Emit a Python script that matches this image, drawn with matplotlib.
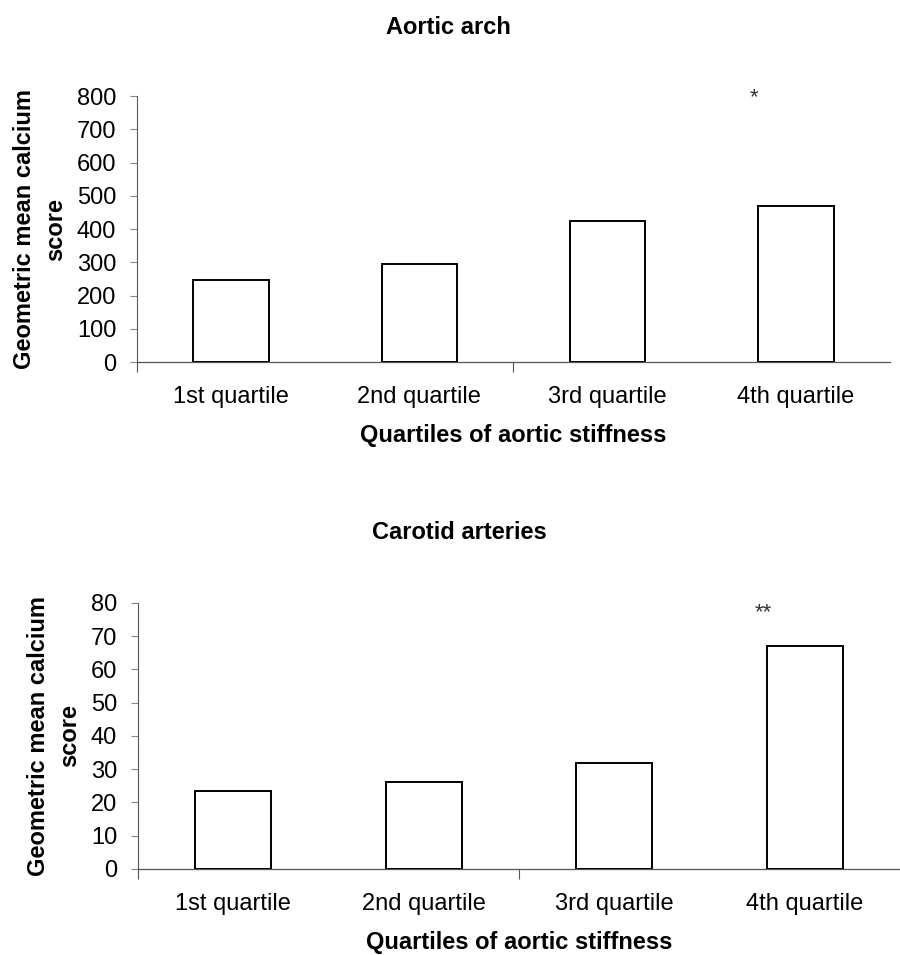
"""
Geometric mean calcium score by quartile of aortic stiffness
Two bar panels: aortic arch and carotid arteries
"""
import matplotlib
matplotlib.use("Agg")
import matplotlib.pyplot as plt

plt.rcParams['font.family'] = ['Liberation Sans', 'DejaVu Sans']

quartiles = ['1st quartile', '2nd quartile', '3rd quartile', '4th quartile']
aortic_arch = [246, 295, 424, 469]
carotid = [23.5, 26.2, 31.9, 67.1]

aortic_ticks = [0, 100, 200, 300, 400, 500, 600, 700, 800]
carotid_ticks = [0, 10, 20, 30, 40, 50, 60, 70, 80]

# significance marks: (bar index, label, height in data units)
aortic_star = (3, '*', 794)
carotid_star = (3, '**', 77)

ylabel = 'Geometric mean calcium\nscore'
xlabel = 'Quartiles of aortic stiffness'


def draw_panel(ax, values, yticks, star):
    """Draw one bar panel with the scanned-figure styling"""
    x = range(len(values))
    ax.bar(x, values, width=0.4, color='white', edgecolor='black', linewidth=1.4, zorder=3)

    ax.set_xlim(-0.5, len(values) - 0.5)
    ax.set_ylim(yticks[0], yticks[-1])
    ax.set_yticks(yticks)
    ax.set_xticks(list(x))
    ax.set_xticklabels(quartiles)
    # only the left edge and the middle divider tick survive in the scan
    ax.set_xticks([-0.5, len(values) / 2 - 0.5], minor=True)

    ax.tick_params(axis='x', which='major', length=0, pad=17, labelsize=17)
    ax.tick_params(axis='x', which='minor', length=7, width=0.8, color='#555555', direction='out')
    ax.tick_params(axis='y', length=5, width=0.8, color='#888888', pad=10, labelsize=17)

    for side in ['top', 'right']:
        ax.spines[side].set_visible(False)
    ax.spines['left'].set_color('#555555')
    ax.spines['left'].set_linewidth(0.8)
    ax.spines['bottom'].set_color('#555555')
    ax.spines['bottom'].set_linewidth(0.9)
    ax.spines['bottom'].set_linestyle((0, (1, 1)))

    ax.set_ylabel(ylabel, fontsize=17, fontweight='bold', linespacing=1.45, labelpad=7)
    ax.set_xlabel(xlabel, fontsize=17, fontweight='bold', labelpad=12)

    idx, mark, height = star
    ax.text(idx - 0.22, height, mark, ha='center', va='center', fontsize=16, color='#333333')


fig = plt.figure(figsize=(9, 9.55), dpi=100)

ax1 = fig.add_axes([0.1522, 0.6209, 0.8367, 0.2785])
draw_panel(ax1, aortic_arch, aortic_ticks, aortic_star)
fig.text(0.498, 0.9717, 'Aortic arch', ha='center', va='center', fontsize=17, fontweight='bold')

ax2 = fig.add_axes([0.1533, 0.0901, 0.8467, 0.2785])
draw_panel(ax2, carotid, carotid_ticks, carotid_star)
fig.text(0.51, 0.4419, 'Carotid arteries', ha='center', va='center', fontsize=17, fontweight='bold')

fig.savefig('out.png', dpi=100)
plt.close(fig)
